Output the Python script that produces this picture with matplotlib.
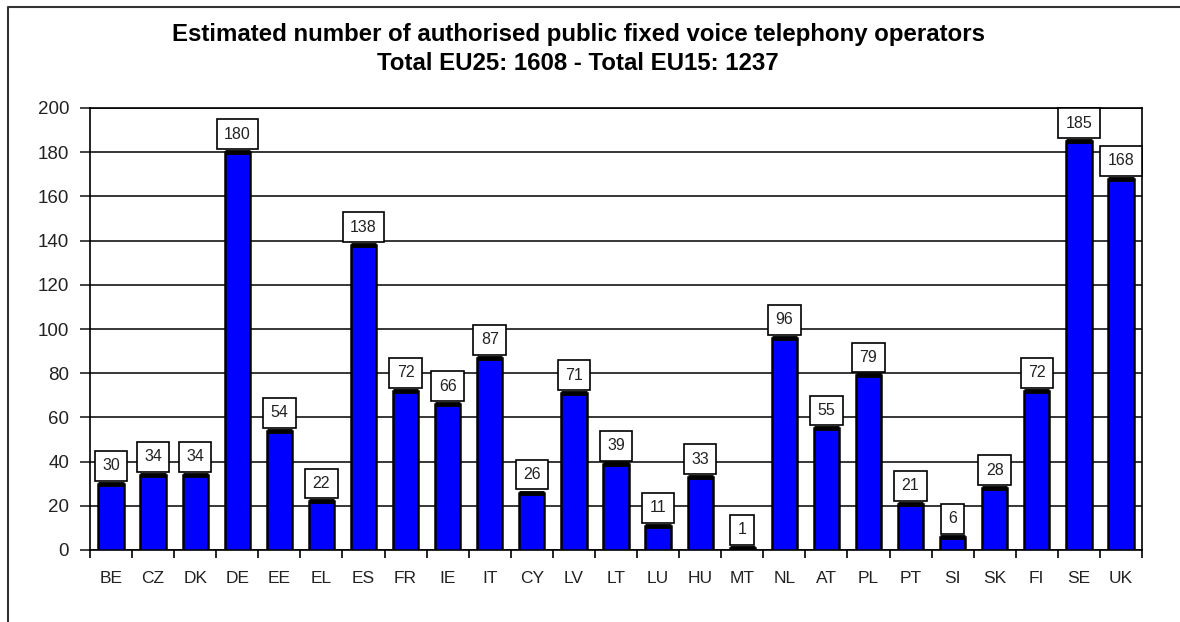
import numpy as np
import matplotlib.pyplot as plt
from matplotlib.lines import Line2D

plt.rcParams['font.family'] = ['Liberation Sans', 'DejaVu Sans']

# data
countries = ['BE', 'CZ', 'DK', 'DE', 'EE', 'EL', 'ES', 'FR', 'IE', 'IT', 'CY', 'LV', 'LT',
             'LU', 'HU', 'MT', 'NL', 'AT', 'PL', 'PT', 'SI', 'SK', 'FI', 'SE', 'UK']
operators = [30, 34, 34, 180, 54, 22, 138, 72, 66, 87, 26, 71, 39,
             11, 33, 1, 96, 55, 79, 21, 6, 28, 72, 185, 168]
yticks = [0, 20, 40, 60, 80, 100, 120, 140, 160, 180, 200]

fig = plt.figure(figsize=(11.8, 6.22), dpi=100)
ax = fig.add_axes([90/1180, 1-550/622, (1142-90)/1180, (550-108)/622])

x = np.arange(len(countries))
ax.bar(x, operators, width=0.6, color='#0000ff', edgecolor='black', linewidth=1.8, zorder=3)
ax.hlines(operators, x-0.3, x+0.3, color='black', linewidth=3.5, zorder=4)   # thick top edge like excel

for xi, v in zip(x, operators):
    ax.annotate(str(v), (xi, v), xytext=(0, 7.5), textcoords='offset points',
                ha='center', va='bottom', fontsize=11.5, color='#222222', zorder=5,
                bbox=dict(boxstyle='square,pad=0.46', fc='white', ec='black', lw=1.2))

ax.set_xlim(-0.5, len(countries)-0.5)
ax.set_ylim(0, 200)
ax.set_yticks(yticks)
ax.yaxis.grid(True, color='black', linewidth=1.1, zorder=0)
ax.set_axisbelow(True)
ax.tick_params(axis='y', labelsize=13.5, length=7, width=1.2, direction='out', pad=8, colors='#222222')
ax.set_xticks(x)
ax.set_xticklabels(countries)
ax.set_xticks(np.arange(len(countries)+1)-0.5, minor=True)
ax.tick_params(axis='x', which='major', length=0, labelsize=12.5, pad=15, colors='#222222')
ax.tick_params(axis='x', which='minor', length=6, width=1.2, direction='out')
for s in ax.spines.values():
    s.set_linewidth(1.2)

fig.text(0.49, 1-35/622, 'Estimated number of authorised public fixed voice telephony operators',
         ha='center', va='center', fontsize=17.3, fontweight='bold')
fig.text(0.49, 1-63/622, 'Total EU25: 1608 - Total EU15: 1237',
         ha='center', va='center', fontsize=17.3, fontweight='bold')

# outer chart frame (cropped at right and bottom)
fig.add_artist(Line2D([8/1180, 8/1180, 1], [0, 1-7/622, 1-7/622], transform=fig.transFigure,
                      color='#333333', linewidth=1.5))

fig.savefig('out.png', dpi=100)
